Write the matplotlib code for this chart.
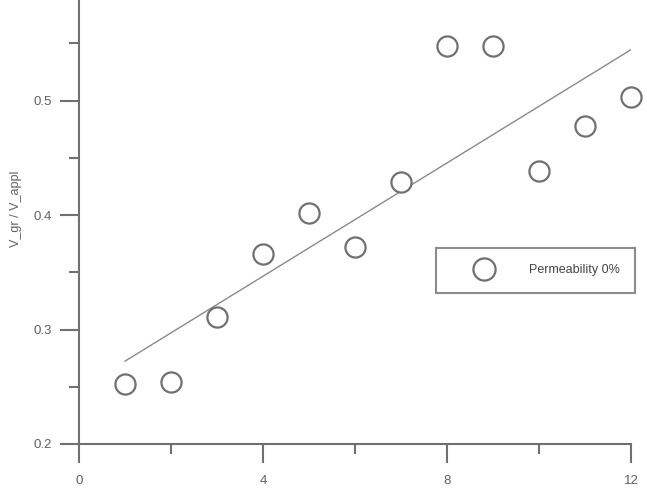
import numpy as np
import matplotlib.pyplot as plt
from matplotlib.ticker import MultipleLocator

plt.rcParams['font.family'] = ['Liberation Sans', 'DejaVu Sans']

x_vals = [1, 2, 3, 4, 5, 6, 7, 8, 9, 10, 11, 12]
y_vals = [0.252, 0.254, 0.311, 0.366, 0.402, 0.372, 0.429, 0.548, 0.548, 0.439, 0.478, 0.503]
x_ticks = [0, 4, 8, 12]
y_ticks = [0.2, 0.3, 0.4, 0.5]
legend_label = 'Permeability 0%'

GRAY = '#707070'
TEXT = '#606060'

fig = plt.figure(figsize=(6.47, 4.93), dpi=100)
ax = fig.add_axes([0.1221, 0.0994, 0.8532, 0.9006])

# linear fit through the points
slope, intercept = np.polyfit(x_vals, y_vals, 1)
fit_x = np.array([min(x_vals), max(x_vals)])
ax.plot(fit_x, slope * fit_x + intercept, color='#8a8a8a', linewidth=1.0)

ax.plot(x_vals, y_vals, linestyle='none', marker='o', markersize=14.5,
        markerfacecolor='white', markeredgecolor=GRAY, markeredgewidth=1.6,
        label=legend_label, clip_on=False)

ax.set_xlim(0, 12)
ax.set_ylim(0.2, 0.588)
ax.set_xticks(x_ticks)
ax.set_yticks(y_ticks)
ax.set_yticklabels([f'{v:.1f}' for v in y_ticks])
ax.xaxis.set_minor_locator(MultipleLocator(2))
ax.yaxis.set_minor_locator(MultipleLocator(0.05))

ax.spines['right'].set_visible(False)
ax.spines['top'].set_visible(False)
for s in ['left', 'bottom']:
    ax.spines[s].set_color(GRAY)
    ax.spines[s].set_linewidth(1.5)

ax.tick_params(which='major', direction='out', length=13.5, width=1.5, color=GRAY,
               labelcolor=TEXT, labelsize=9.5)
ax.tick_params(axis='x', which='major', pad=9)
ax.tick_params(axis='y', which='major', pad=6)
ax.tick_params(which='minor', direction='out', length=7, width=1.5, color=GRAY)

ax.set_ylabel('V_gr / V_appl', fontsize=9, color=TEXT)
ax.yaxis.set_label_coords(-0.104, 0.529)

leg = ax.legend(loc='upper left', bbox_to_anchor=(0.647, 0.341, 0.360, 0.1),
                mode='expand', fontsize=9, frameon=True, fancybox=False,
                borderpad=1.3, handletextpad=1.1, handlelength=5.0,
                borderaxespad=0, markerscale=1.1)
leg.get_frame().set_edgecolor(GRAY)
leg.get_frame().set_linewidth(1.5)
for t in leg.get_texts():
    t.set_color('#444444')

plt.savefig('out.png', dpi=100)
